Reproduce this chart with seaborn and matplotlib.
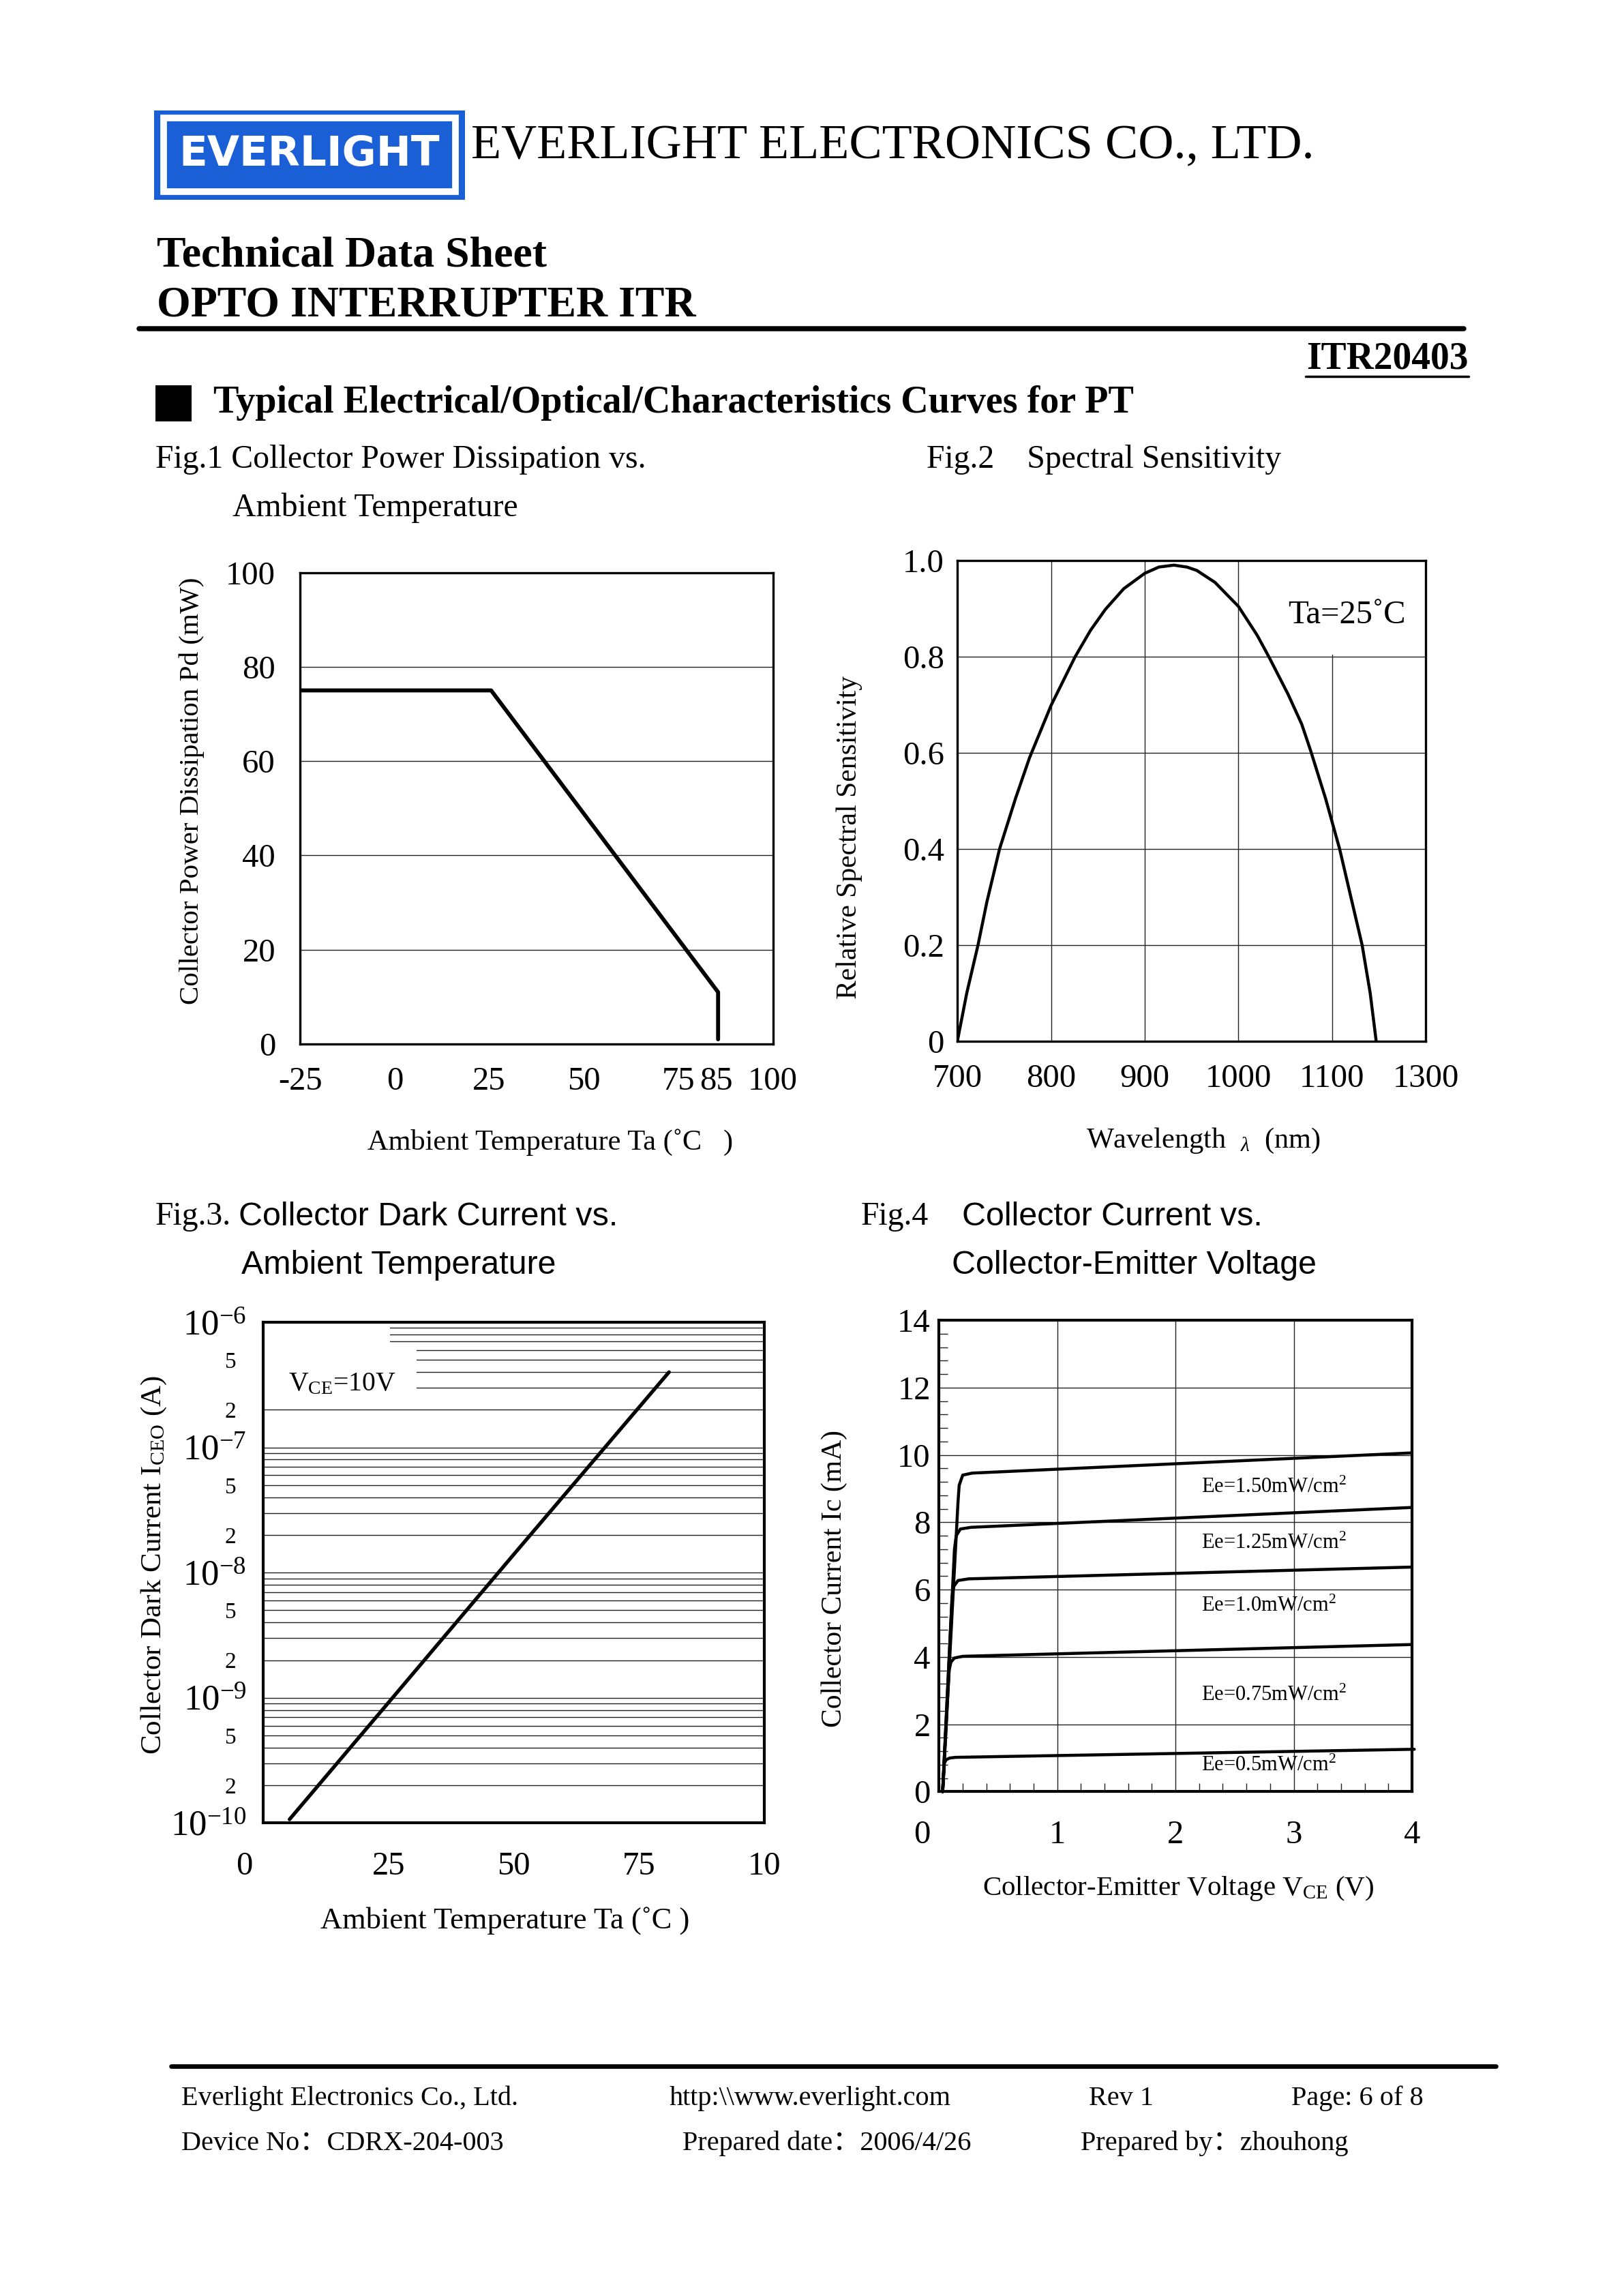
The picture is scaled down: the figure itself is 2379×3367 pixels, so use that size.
import matplotlib
matplotlib.use("Agg")
import matplotlib.pyplot as plt
import matplotlib.ticker as mticker
from matplotlib.patches import Rectangle
from matplotlib.lines import Line2D
from matplotlib.transforms import ScaledTranslation
import pandas as pd
import seaborn as sns

# Fig.1 Pd x Ta
fig1_temp = [-25, 25.5, 85.5, 85.5]
fig1_pd = [75, 75, 11, 1]
fig1_xticks = [-25, 0, 25, 50, 75, 85, 100]
fig1_yticks = [0, 20, 40, 60, 80, 100]

# Fig.2 sensibilidade espectral
fig2_wl = [700, 710, 722, 731.5, 745, 762, 777, 800, 825.6, 842, 858, 877.6,
           900, 915, 931, 945, 955.5, 975, 1000, 1020, 1032.5, 1053, 1067.5,
           1077, 1093, 1100, 1108, 1119.5, 1132, 1140.6, 1147]
fig2_sens = [0, 0.1, 0.2, 0.29, 0.4, 0.505, 0.59, 0.699, 0.8, 0.855, 0.899,
             0.942, 0.974, 0.987, 0.991, 0.987, 0.98, 0.955, 0.905, 0.845, 0.8,
             0.722, 0.66, 0.605, 0.505, 0.456, 0.4, 0.304, 0.2, 0.1, 0]
fig2_xticks = [700, 800, 900, 1000, 1100, 1200]
fig2_xlabels = ["700", "800", "900", "1000", "1100", "1300"]
fig2_yticks = [0, 0.2, 0.4, 0.6, 0.8, 1.0]
fig2_ylabels = ["0", "0.2", "0.4", "0.6", "0.8", "1.0"]

# Fig.3 corrente de escuro
fig3_temp = [5.2, 25, 50, 81]
fig3_iceo = [1.07e-10, 9.2e-10, 1.4e-8, 4.0e-7]
fig3_xticks = [0, 25, 50, 75, 100]
fig3_xlabels = ["0", "25", "50", "75", "10"]
fig3_yticks = [1e-10, 2e-10, 5e-10, 1e-9, 2e-9, 5e-9, 1e-8, 2e-8, 5e-8,
               1e-7, 2e-7, 5e-7, 1e-6]
fig3_ylabels = [r"$10^{-10}$", "2", "5", r"$10^{-9}$", "2", "5", r"$10^{-8}$",
                "2", "5", r"$10^{-7}$", "2", "5", r"$10^{-6}$"]

# Fig.4 Ic x Vce
fig4_ee = ["0.5", "0.75", "1.0", "1.25", "1.50"]
vce_050 = [0.03, 0.045, 0.06, 0.09, 0.14, 4.02]
ic_050 = [0, 0.85, 0.95, 1.0, 1.02, 1.26]
vce_075 = [0.03, 0.085, 0.10, 0.13, 0.20, 4.0]
ic_075 = [0, 3.6, 3.85, 3.97, 4.02, 4.37]
vce_100 = [0.03, 0.11, 0.125, 0.16, 0.25, 4.0]
ic_100 = [0, 5.8, 6.1, 6.27, 6.32, 6.67]
vce_125 = [0.03, 0.13, 0.145, 0.18, 0.27, 4.0]
ic_125 = [0, 7.2, 7.6, 7.8, 7.85, 8.44]
vce_150 = [0.03, 0.16, 0.17, 0.20, 0.28, 4.0]
ic_150 = [0, 8.6, 9.1, 9.4, 9.46, 10.06]
fig4_label_y = [0.77, 2.86, 5.5, 7.37, 9.03]

# --- Estilo ---
sns.set_theme(style="white")
plt.rcParams["font.family"] = ["Liberation Serif", "Noto Sans CJK SC"]
plt.rcParams["mathtext.fontset"] = "custom"
plt.rcParams["mathtext.rm"] = "Liberation Serif"
plt.rcParams["mathtext.it"] = "Liberation Serif:italic"
plt.rcParams["mathtext.bf"] = "Liberation Serif:bold"
plt.rcParams["axes.unicode_minus"] = False
plt.rcParams["text.color"] = "black"
plt.rcParams["axes.labelcolor"] = "black"
plt.rcParams["xtick.color"] = "black"
plt.rcParams["ytick.color"] = "black"

W, H = 1108, 1568  # coordenadas de referencia (pagina reduzida)


def fx(x):
    return x / W


def fy(y):
    return 1 - y / H


def axes_box(left, right, top, bottom):
    return [fx(left), fy(bottom), (right - left) / W, (bottom - top) / H]


fig = plt.figure(figsize=(23.79, 33.67), dpi=100)
fig.patch.set_facecolor("white")

SANS = ["Liberation Sans", "DejaVu Sans"]
GRID = dict(color="#222222", linewidth=1.0)


def frame(ax, lw=2.4):
    for s in ax.spines.values():
        s.set_visible(True)
        s.set_color("black")
        s.set_linewidth(lw)
    ax.set_facecolor("white")


# --- Cabecalho ---
fig.add_artist(Rectangle((fx(105.3), fy(136.3)), 212.5 / W, 61 / H,
                         transform=fig.transFigure, facecolor="#1a5fd6",
                         edgecolor="none"))
fig.add_artist(Rectangle((fx(111.6), fy(131)), 199.3 / W, 50.5 / H,
                         transform=fig.transFigure, facecolor="none",
                         edgecolor="white", linewidth=7))
fig.text(fx(211.5), fy(105.5), "EVERLIGHT", family=["DejaVu Sans"],
         fontweight="bold", fontsize=44, color="white", ha="center",
         va="center")
fig.text(fx(322), fy(100), "EVERLIGHT ELECTRONICS CO., LTD.", fontsize=52,
         va="center", ha="left")
fig.text(fx(107), fy(175), "Technical Data Sheet", fontsize=46,
         fontweight="bold", va="center")
fig.text(fx(107), fy(209), "OPTO INTERRUPTER ITR", fontsize=46,
         fontweight="bold", va="center")
fig.add_artist(Line2D([fx(95), fx(1000)], [fy(224.5), fy(224.5)],
                      color="black", linewidth=5.4))
fig.text(fx(1003), fy(245), "ITR20403", fontsize=40, fontweight="bold",
         ha="right", va="center")
fig.add_artist(Line2D([fx(892), fx(1003)], [fy(257), fy(257)],
                      color="black", linewidth=2.5))
fig.add_artist(Rectangle((fx(106), fy(288)), 25 / W, 25 / H,
                         transform=fig.transFigure, facecolor="black",
                         edgecolor="none"))
fig.text(fx(146), fy(275), "Typical Electrical/Optical/Characteristics Curves for PT",
         fontsize=40.4, fontweight="bold", va="center")

# --- Titulos das figuras ---
fig.text(fx(106), fy(314), "Fig.1 Collector Power Dissipation vs.",
         fontsize=34.4, va="center")
fig.text(fx(159), fy(347), "Ambient Temperature", fontsize=34.4, va="center")
fig.text(fx(633), fy(314), "Fig.2    Spectral Sensitivity", fontsize=34.4,
         va="center")
fig.text(fx(106), fy(831), "Fig.3.", fontsize=34.4, va="center")
fig.text(fx(163), fy(831), "Collector Dark Current vs.", fontsize=34.8,
         family=SANS, va="center")
fig.text(fx(165), fy(864), "Ambient Temperature", fontsize=34.8, family=SANS,
         va="center")
fig.text(fx(588), fy(831), "Fig.4", fontsize=34.4, va="center")
fig.text(fx(657), fy(831), "Collector Current vs.", fontsize=34.8,
         family=SANS, va="center")
fig.text(fx(650), fy(864), "Collector-Emitter Voltage", fontsize=34.8,
         family=SANS, va="center")

# --- Fig.1 ---
ax1 = fig.add_axes(axes_box(205, 528, 391, 713))
frame(ax1)
sns.lineplot(x=fig1_temp, y=fig1_pd, ax=ax1, color="black", linewidth=4.2,
             sort=False, estimator=None)
ax1.set_xlim(-25, 100)
ax1.set_ylim(0, 100)
ax1.set_xticks(fig1_xticks)
ax1.set_xticks([-25, 0, 25, 50, 75, 100], minor=True)
ax1.set_yticks(fig1_yticks)
ax1.xaxis.grid(True, which="minor", **GRID)
ax1.yaxis.grid(True, which="major", **GRID)
ax1.tick_params(which="both", length=0, labelsize=35)
ax1.tick_params(axis="x", pad=24)
ax1.tick_params(axis="y", pad=26)
ax1.set_xlabel("Ambient Temperature Ta (˚C   )", fontsize=30.5)
ax1.set_ylabel("Collector Power Dissipation Pd (mW)", fontsize=29.5)
ax1.xaxis.set_label_coords(0.529, -0.208)
ax1.xaxis.label.set_va("center")
ax1.yaxis.set_label_coords(-0.229, 0.537)
ax1.yaxis.label.set_va("center")

# --- Fig.2 ---
ax2 = fig.add_axes(axes_box(654, 974, 383, 711))
frame(ax2)
sns.lineplot(x=fig2_wl, y=fig2_sens, ax=ax2, color="black", linewidth=3.2,
             sort=False, estimator=None, zorder=3)
for line in ax2.get_lines():
    line.set_solid_joinstyle("round")
ax2.set_xlim(700, 1200)
ax2.set_ylim(0, 1.0)
ax2.set_xticks(fig2_xticks, fig2_xlabels)
ax2.set_yticks(fig2_yticks, fig2_ylabels)
ax2.grid(True, **GRID)
ax2.add_patch(Rectangle((1004, 0.805), 200, 0.2, facecolor="white",
                        edgecolor="none", zorder=1))
ax2.tick_params(which="both", length=0, labelsize=35)
ax2.tick_params(axis="x", pad=24)
ax2.tick_params(axis="y", pad=14)
ax2.text(1116, 0.887, "Ta=25˚C", fontsize=35, ha="center", va="center",
         zorder=4)
ax2.set_xlabel(r"Wavelength  $_{\lambda}$  (nm)", fontsize=30.5)
ax2.set_ylabel("Relative Spectral Sensitivity", fontsize=30)
ax2.xaxis.set_label_coords(0.525, -0.207)
ax2.xaxis.label.set_va("center")
ax2.yaxis.set_label_coords(-0.231, 0.424)
ax2.yaxis.label.set_va("center")

# --- Fig.3 ---
ax3 = fig.add_axes(axes_box(180, 522, 903, 1245))
frame(ax3, lw=3.0)
ax3.set_yscale("log")
sns.lineplot(x=fig3_temp, y=fig3_iceo, ax=ax3, color="black", linewidth=3.8,
             sort=False, estimator=None, zorder=3)
ax3.set_xlim(0, 100)
ax3.set_ylim(1e-10, 1e-6)
ax3.set_xticks(fig3_xticks, fig3_xlabels)
ax3.yaxis.set_major_locator(mticker.FixedLocator(fig3_yticks))
ax3.yaxis.set_major_formatter(mticker.FixedFormatter(fig3_ylabels))
ax3.yaxis.set_minor_locator(mticker.LogLocator(base=10, subs=range(2, 10)))
ax3.yaxis.set_minor_formatter(mticker.NullFormatter())
ax3.set_xticks([25, 50, 75], minor=True)
ax3.xaxis.grid(True, which="minor", **GRID)
ax3.yaxis.grid(True, which="both", **GRID)
ax3.add_patch(Rectangle((0, 2.2e-7), 30.6, 4.3e-7, facecolor="white",
                        edgecolor="none", zorder=1))
ax3.add_patch(Rectangle((0, 6.5e-7), 25.2, 3.5e-7, facecolor="white",
                        edgecolor="none", zorder=1))
ax3.tick_params(which="both", length=0)
ax3.tick_params(axis="x", labelsize=35, pad=30)
ax3.tick_params(axis="y", labelsize=38, pad=18)
for lbl in ax3.get_yticklabels():
    if not lbl.get_text().startswith("$"):
        lbl.set_fontsize(24)
        lbl.set_transform(lbl.get_transform() +
                          ScaledTranslation(-0.15, 0, fig.dpi_scale_trans))
xl = ax3.get_xticklabels()[0]
xl.set_transform(xl.get_transform() +
                 ScaledTranslation(-0.28, 0, fig.dpi_scale_trans))
ax3.text(5.0, 3.2e-7, r"V$_{\rm CE}$=10V", fontsize=28.5, ha="left",
         va="center", zorder=4)
ax3.set_xlabel("Ambient Temperature Ta (˚C )", fontsize=32)
ax3.set_ylabel(r"Collector Dark Current I$_{\rm CEO}$ (A)", fontsize=31)
ax3.xaxis.set_label_coords(0.482, -0.196)
ax3.xaxis.label.set_va("center")
ax3.yaxis.set_label_coords(-0.219, 0.515)
ax3.yaxis.label.set_va("center")

# --- Fig.4 ---
ax4 = fig.add_axes(axes_box(641.5, 964.5, 901.6, 1223.6))
frame(ax4, lw=3.0)
df4 = pd.concat([
    pd.DataFrame({"Vce": vce_050, "Ic": ic_050, "Ee": fig4_ee[0]}),
    pd.DataFrame({"Vce": vce_075, "Ic": ic_075, "Ee": fig4_ee[1]}),
    pd.DataFrame({"Vce": vce_100, "Ic": ic_100, "Ee": fig4_ee[2]}),
    pd.DataFrame({"Vce": vce_125, "Ic": ic_125, "Ee": fig4_ee[3]}),
    pd.DataFrame({"Vce": vce_150, "Ic": ic_150, "Ee": fig4_ee[4]}),
])
sns.lineplot(data=df4, x="Vce", y="Ic", hue="Ee", palette=["black"] * 5,
             ax=ax4, linewidth=3.2, sort=False, estimator=None, legend=False,
             zorder=3)
for line in ax4.get_lines():
    line.set_clip_on(False)
    line.set_solid_joinstyle("round")
ax4.set_xlim(0, 4)
ax4.set_ylim(0, 14)
ax4.set_xticks([0, 1, 2, 3, 4])
ax4.set_yticks([0, 2, 4, 6, 8, 10, 12, 14])
ax4.xaxis.set_minor_locator(mticker.MultipleLocator(0.2))
ax4.yaxis.set_minor_locator(mticker.MultipleLocator(0.4))
ax4.grid(True, which="major", **GRID)
ax4.tick_params(which="major", length=0, labelsize=35)
ax4.tick_params(which="minor", direction="in", length=9, width=1.0,
                bottom=True, left=True, top=False, right=False,
                color="#222222")
ax4.tick_params(axis="x", pad=30)
ax4.tick_params(axis="y", pad=9)
xl = ax4.get_xticklabels()[0]
xl.set_transform(xl.get_transform() +
                 ScaledTranslation(-0.25, 0, fig.dpi_scale_trans))
for ee, ly in zip(fig4_ee, fig4_label_y):
    ax4.text(2.22, ly, "Ee=" + ee + r"mW/cm$^2$", fontsize=22, ha="left",
             va="center")
ax4.set_xlabel(r"Collector-Emitter Voltage V$_{\rm CE}$ (V)", fontsize=29.5)
ax4.set_ylabel("Collector Current Ic (mA)", fontsize=30)
ax4.xaxis.set_label_coords(0.506, -0.206)
ax4.xaxis.label.set_va("center")
ax4.yaxis.set_label_coords(-0.221, 0.452)
ax4.yaxis.label.set_va("center")

# --- Rodape ---
fig.add_artist(Line2D([fx(117), fx(1022)], [fy(1411), fy(1411)],
                      color="black", linewidth=4.8))
rodape = [
    (124, 1433, "Everlight Electronics Co., Ltd."),
    (457, 1433, "http:\\\\www.everlight.com"),
    (744, 1433, "Rev 1"),
    (882, 1433, "Page: 6 of 8"),
    (124, 1464, "Device No：CDRX-204-003"),
    (466, 1464, "Prepared date：2006/4/26"),
    (738, 1464, "Prepared by：zhouhong"),
]
for x, y, s in rodape:
    fig.text(fx(x), fy(y), s, fontsize=29, va="center", ha="left")

fig.savefig("out.png", dpi=100, facecolor="white")
